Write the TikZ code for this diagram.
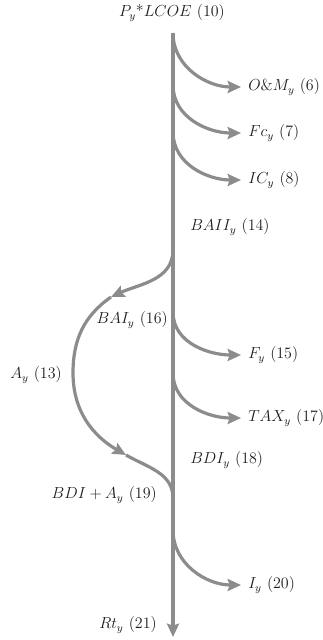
\documentclass[tikz,border=0pt]{standalone}
\usepackage{tikz}
\usetikzlibrary{arrows.meta}
\definecolor{FlowGray}{RGB}{140,140,140}
\definecolor{LabelInk}{RGB}{30,28,28}
\tikzset{
  flow/.style={draw=FlowGray, line width=2.4pt, -{Stealth[length=10pt,width=9pt,inset=1.5pt]}},
  plainflow/.style={draw=FlowGray, line width=2.4pt},
  lbl/.style={text=LabelInk, font=\fontsize{12}{14}\selectfont, inner sep=0pt}
}
\begin{document}
\begin{tikzpicture}[x=0.75pt,y=0.75pt]
  \useasboundingbox (0,-640) rectangle (323,0);
  % junctions on the main line
  \coordinate (top) at (173,-33);
  \coordinate (j7) at (173,-85);
  \coordinate (j8) at (173,-132);
  \coordinate (j16) at (173,-250);
  \coordinate (j15) at (173,-312);
  \coordinate (j17) at (173,-373);
  \coordinate (j19) at (173,-498);
  \coordinate (j20) at (173,-530);
  \coordinate (bottom) at (173,-637);
  % arrow ends
  \coordinate (e6) at (241,-87);
  \coordinate (e7) at (241,-133);
  \coordinate (e8) at (241,-180);
  \coordinate (e15) at (241,-355);
  \coordinate (e17) at (241,-418);
  \coordinate (e20) at (241,-585);
  \coordinate (a16) at (111,-297);
  \coordinate (aleft) at (73,-373);
  \coordinate (a19) at (126,-455);
  % labels
  \node[lbl] (lcoe) at (172,-13) {$P_y$*$LCOE$ (10)};
  \node[lbl, anchor=west] (om) at (248,-87) {$O\&M_y$ (6)};
  \node[lbl, anchor=west] (fc) at (248,-133) {$Fc_y$ (7)};
  \node[lbl, anchor=west] (ic) at (248,-180) {$IC_y$ (8)};
  \node[lbl, anchor=west] (baii) at (190,-227) {$BAII_y$ (14)};
  \node[lbl, anchor=east] (bai) at (168,-320) {$BAI_y$ (16)};
  \node[lbl, anchor=west] (f) at (248,-355) {$F_y$ (15)};
  \node[lbl, anchor=west] (ay) at (10,-375) {$A_y$ (13)};
  \node[lbl, anchor=west] (tax) at (248,-418) {$TAX_y$ (17)};
  \node[lbl, anchor=west] (bdi) at (190,-460) {$BDI_y$ (18)};
  \node[lbl, anchor=east] (bdia) at (157,-495) {$BDI + A_y$ (19)};
  \node[lbl, anchor=west] (iy) at (248,-585) {$I_y$ (20)};
  \node[lbl, anchor=east] (rt) at (157,-625) {$Rt_y$ (21)};
  % main flow
  \draw[flow] (top) -- (bottom);
  % outflows to the right
  \draw[flow] (top) to[out=-90,in=180] (e6);
  \draw[flow] (j7) to[out=-90,in=180] (e7);
  \draw[flow] (j8) to[out=-90,in=180] (e8);
  \draw[flow] (j15) to[out=-90,in=180] (e15);
  \draw[flow] (j17) to[out=-90,in=180] (e17);
  \draw[flow] (j20) to[out=-90,in=180] (e20);
  % loop on the left
  \draw[flow] (j16) to[out=-90,in=25] (a16);
  \draw[flow] (a16) to[out=215,in=90] (aleft) to[out=-90,in=150] (a19);
  \draw[plainflow] (a19) to[out=-30,in=90] (j19);
\end{tikzpicture}
\end{document}
